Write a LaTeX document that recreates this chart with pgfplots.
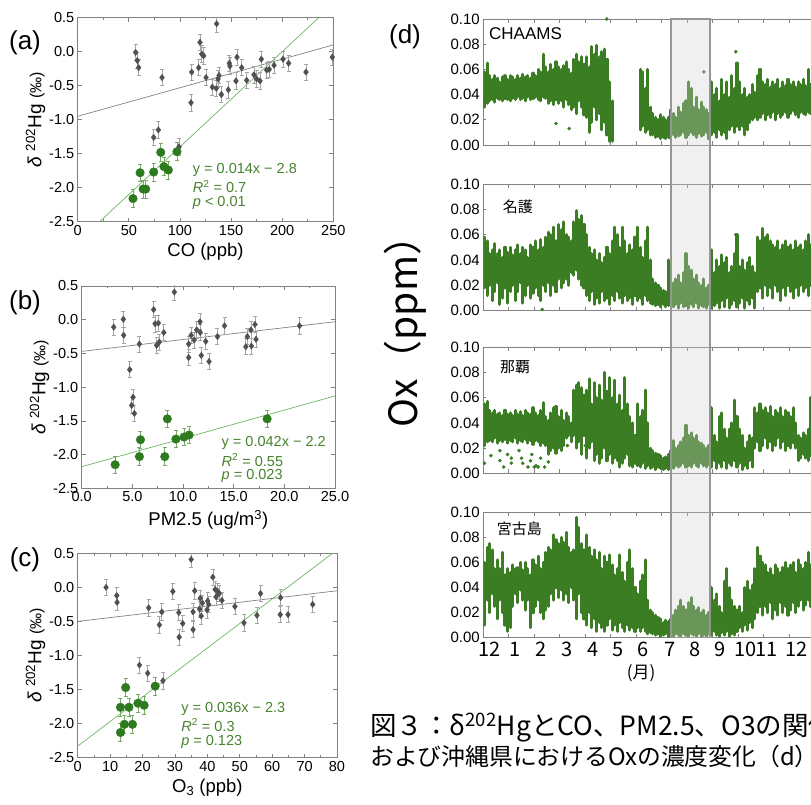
\documentclass[border=0pt]{standalone}
\usepackage{fontspec}
\setmainfont{Liberation Sans}
\newfontfamily\jp{Noto Sans CJK JP}
\usepackage{pgfplots}
\usepackage{pgfplotstable}
\pgfplotsset{compat=1.18}
\newcommand\fs[1]{\fontsize{#1}{#1}\selectfont}
\definecolor{tsgreen}{RGB}{58,125,34}
\definecolor{scgreen}{RGB}{46,122,30}
\definecolor{greenline}{RGB}{110,180,100}
\definecolor{greenerr}{RGB}{120,170,100}
\definecolor{greymark}{RGB}{80,80,80}
\definecolor{greyerr}{RGB}{165,165,165}
\definecolor{greyline}{RGB}{130,130,130}
\definecolor{axgray}{RGB}{130,130,130}
\definecolor{annot}{RGB}{70,130,45}

\pgfplotstableread{
t lo hi
0.05 30 58
0.15 33 65
0.25 35 55
0.35 36 52
0.45 34 55
0.55 37 53
0.65 36 50
0.75 35 54
0.85 37 55
0.95 36 52
1.05 35 55
1.15 37 54
1.25 36 52
1.35 38 55
1.45 36 53
1.55 37 56
1.65 35 54
1.75 38 55
1.85 36 53
1.95 37 57
2.05 38 55
2.15 36 60
2.25 35 58
2.35 38 72
2.45 37 62
2.55 33 58
2.65 35 64
2.75 32 60
2.85 36 66
2.95 33 62
3.05 35 60
3.15 30 63
3.25 36 66
3.35 32 60
3.45 28 57
3.55 30 68
3.65 25 72
3.75 35 66
3.85 30 70
3.95 24 64
4.05 22 70
4.15 10 62
4.25 18 78
4.35 30 72
4.45 20 79
4.55 25 70
4.65 12 74
4.75 18 76
4.85 8 68
4.95 3 50
5.05 3 35
6.15 12 60
6.25 15 58
6.35 10 45
6.45 12 60
6.55 8 30
6.65 8 25
6.75 6 22
6.85 7 20
6.95 5 24
7.05 6 22
7.15 5 20
7.25 6 22
7.35 5 28
7.45 8 25
7.55 6 22
7.65 7 30
7.75 8 26
7.85 10 33
7.95 6 35
8.05 8 50
8.15 10 45
8.25 8 30
8.35 6 38
8.45 9 28
8.55 7 34
8.65 8 30
8.75 10 28
8.85 5 25
8.95 8 50
9.05 10 40
9.15 6 45
9.25 12 35
9.35 8 52
9.45 10 40
9.55 5 50
9.65 12 38
9.75 15 55
9.85 10 45
9.95 15 65
10.05 12 50
10.15 15 40
10.25 8 45
10.35 12 38
10.45 18 40
10.55 20 48
10.65 22 42
10.75 20 55
10.85 22 60
10.95 25 50
11.05 20 48
11.15 24 52
11.25 22 46
11.35 26 50
11.45 20 48
11.55 25 52
11.65 22 45
11.75 24 50
11.85 26 47
11.95 22 52
12.05 25 48
12.15 27 50
12.25 24 46
12.35 22 50
12.45 26 48
12.55 25 52
12.65 24 47
12.75 26 60
12.85 25 48
12.95 27 50
}\tsA

\pgfplotstableread{
t lo hi
0.05 18 58
0.15 12 55
0.25 20 45
0.35 8 48
0.45 15 53
0.55 22 45
0.65 5 48
0.75 10 42
0.85 18 50
0.95 6 46
1.05 15 50
1.15 20 44
1.25 8 48
1.35 15 52
1.45 22 45
1.55 6 50
1.65 12 48
1.75 20 42
1.85 10 52
1.95 14 50
2.05 18 55
2.15 12 48
2.25 8 56
2.35 20 50
2.45 15 58
2.55 22 62
2.65 12 60
2.75 20 66
2.85 15 55
2.95 25 68
3.05 18 64
3.15 22 70
3.25 25 60
3.35 20 58
3.45 30 55
3.55 28 70
3.65 32 79
3.75 25 72
3.85 20 75
3.95 18 68
4.05 12 60
4.15 8 50
4.25 15 45
4.35 5 48
4.45 10 40
4.55 6 45
4.65 15 38
4.75 8 42
4.85 10 50
4.95 5 45
5.05 12 55
5.15 8 66
5.25 15 60
5.35 10 50
5.45 6 66
5.55 12 55
5.65 8 45
5.75 10 52
5.85 5 48
5.95 12 58
6.05 8 66
6.15 10 50
6.25 5 42
6.35 12 55
6.45 8 66
6.55 6 40
6.65 5 25
6.75 4 22
6.85 5 20
6.95 3 18
7.05 5 16
7.15 3 15
7.25 4 40
7.35 8 20
7.45 3 22
7.55 5 25
7.65 2 28
7.75 6 22
7.85 3 30
7.95 4 45
8.05 2 35
8.15 5 32
8.25 3 25
8.35 6 28
8.45 2 22
8.55 4 20
8.65 3 25
8.75 2 18
8.85 5 20
8.95 2 48
9.05 4 30
9.15 6 40
9.25 2 35
9.35 8 44
9.45 3 38
9.55 10 42
9.65 2 30
9.75 5 35
9.85 8 45
9.95 3 60
10.05 6 35
10.15 10 40
10.25 2 32
10.35 8 38
10.45 5 42
10.55 10 35
10.65 2 30
10.75 15 58
10.85 18 55
10.95 10 65
11.05 20 58
11.15 12 60
11.25 18 55
11.35 10 52
11.45 20 50
11.55 15 55
11.65 8 48
11.75 18 52
11.85 12 55
11.95 20 50
12.05 15 52
12.15 10 48
12.25 18 55
12.35 12 50
12.45 20 52
12.55 15 48
12.65 18 55
12.75 12 60
12.85 20 52
12.95 16 50
}\tsB

\pgfplotstableread{
t lo hi
0.05 22 55
0.15 25 57
0.25 26 50
0.35 25 48
0.45 28 50
0.55 24 47
0.65 26 48
0.75 25 46
0.85 27 50
0.95 24 47
1.05 26 48
1.15 25 46
1.25 28 50
1.35 24 47
1.45 26 49
1.55 25 46
1.65 27 50
1.75 24 48
1.85 26 47
1.95 23 52
2.05 26 48
2.15 25 46
2.25 22 50
2.35 24 56
2.45 22 45
2.55 15 42
2.65 18 48
2.75 20 52
2.85 16 53
2.95 20 45
3.05 18 50
3.15 22 42
3.25 28 48
3.35 30 45
3.45 25 40
3.55 30 66
3.65 20 70
3.75 25 72
3.85 15 68
3.95 30 62
4.05 12 66
4.15 20 75
4.25 25 55
4.35 10 72
4.45 15 60
4.55 8 70
4.65 12 58
4.75 20 80
4.85 10 65
4.95 15 76
5.05 8 60
5.15 12 74
5.25 10 55
5.35 5 62
5.45 8 50
5.55 12 76
5.65 15 55
5.75 6 45
5.85 5 40
5.95 8 30
6.05 6 55
6.15 5 45
6.25 8 50
6.35 4 66
6.45 6 40
6.55 4 20
6.65 5 18
6.75 3 16
6.85 5 15
6.95 4 14
7.05 3 12
7.15 4 13
7.25 3 15
7.35 5 18
7.45 4 26
7.55 6 20
7.65 5 22
7.75 6 25
7.85 8 28
7.95 5 38
8.05 6 30
8.15 5 32
8.25 8 28
8.35 6 30
8.45 5 25
8.55 8 24
8.65 6 22
8.75 5 20
8.85 7 22
8.95 5 52
9.05 10 30
9.15 4 25
9.25 8 45
9.35 5 48
9.45 10 35
9.55 4 28
9.65 8 35
9.75 6 40
9.85 10 58
9.95 5 45
10.05 8 35
10.15 3 30
10.25 6 20
10.35 4 25
10.45 10 30
10.55 5 28
10.65 20 52
10.75 25 48
10.85 18 55
10.95 22 50
11.05 28 52
11.15 20 48
11.25 25 53
11.35 18 45
11.45 22 50
11.55 28 48
11.65 20 52
11.75 25 45
11.85 18 50
11.95 22 48
12.05 20 45
12.15 24 52
12.25 20 40
12.35 10 30
12.45 12 28
12.55 15 32
12.65 12 30
12.75 10 35
12.85 14 60
12.95 15 35
}\tsC

\pgfplotstableread{
t lo hi
0.05 10 60
0.15 30 72
0.25 20 75
0.35 35 70
0.45 25 55
0.55 15 62
0.65 30 55
0.75 20 68
0.85 10 50
0.95 5 55
1.05 8 52
1.15 25 58
1.25 35 55
1.35 28 56
1.45 38 60
1.55 30 54
1.65 22 60
1.75 30 55
1.85 8 50
1.95 20 62
2.05 25 58
2.15 30 65
2.25 20 55
2.35 15 60
2.45 22 68
2.55 25 72
2.65 35 70
2.75 30 82
2.85 40 78
2.95 32 75
3.05 38 80
3.15 30 76
3.25 35 84
3.35 28 72
3.45 40 68
3.55 30 70
3.65 15 96
3.75 35 88
3.85 20 75
3.95 15 70
4.05 10 82
4.15 20 72
4.25 8 65
4.35 15 70
4.45 5 62
4.55 12 68
4.65 8 55
4.75 5 65
4.85 10 60
4.95 15 66
5.05 6 58
5.15 10 50
5.25 5 55
5.35 12 66
5.45 8 52
5.55 5 45
5.65 10 60
5.75 6 70
5.85 8 55
5.95 5 40
6.05 8 35
6.15 5 45
6.25 8 50
6.35 5 62
6.45 3 30
6.55 4 22
6.65 3 20
6.75 2 18
6.85 3 16
6.95 1 15
7.05 2 12
7.15 3 14
7.25 1 13
7.35 2 15
7.45 1 18
7.55 3 22
7.65 2 25
7.75 1 30
7.85 3 25
7.95 2 22
8.05 1 28
8.15 3 32
8.25 2 25
8.35 1 22
8.45 3 24
8.55 0 20
8.65 2 22
8.75 1 18
8.85 3 20
8.95 2 40
9.05 5 30
9.15 2 35
9.25 1 25
9.35 4 20
9.45 2 45
9.55 5 55
9.65 1 40
9.75 3 30
9.85 2 25
9.95 5 22
10.05 8 25
10.15 5 20
10.25 10 40
10.35 6 45
10.45 12 38
10.55 8 42
10.65 15 55
10.75 20 72
10.85 25 65
10.95 18 60
11.05 25 58
11.15 20 52
11.25 28 55
11.35 15 50
11.45 22 58
11.55 18 55
11.65 28 52
11.75 20 56
11.85 25 60
11.95 18 55
12.05 22 58
12.15 28 60
12.25 20 52
12.35 25 62
12.45 30 58
12.55 22 55
12.65 26 60
12.75 30 68
12.85 25 58
12.95 28 62
}\tsD

\pgfplotsset{
  scat/.style={scale only axis, anchor=south west, clip=true,
    axis line style={draw=axgray, line width=0.9pt},
    tick style={draw=axgray, line width=0.7pt},
    tick align=inside, tick pos=both,
    major tick length=4pt, minor tick length=2.5pt,
    minor x tick num=1,
    ymin=-2.5, ymax=0.5, ytick={-2.5,-2.0,-1.5,-1.0,-0.5,0.0,0.5},
    yticklabel style={/pgf/number format/.cd, fixed, fixed zerofill, precision=1},
    ticklabel style={font=\fs{14.5}},
    /pgf/number format/assume math mode=true,
    ylabel={\fs{19}\textit{δ} \textsuperscript{202}Hg \fs{16}(‰)},
    ylabel style={yshift=-3pt},
    xlabel style={font=\fs{18.5}, yshift=-1pt},
  },
  greypts/.style={only marks, mark=diamond*, mark size=3.2pt, color=greymark,
    error bars/.cd, y dir=both, y fixed=0.12,
    error bar style={draw=greyerr, line width=0.7pt},
    error mark options={rotate=90, mark size=2pt, draw=greyerr, line width=0.7pt}},
  greenpts/.style={only marks, mark=*, mark size=4.3pt, color=scgreen,
    error bars/.cd, y dir=both, y fixed=0.13,
    error bar style={draw=greenerr, line width=0.7pt},
    error mark options={rotate=90, mark size=2pt, draw=greenerr, line width=0.7pt}},
  ts/.style={scale only axis, anchor=south west, clip=true,
    width=331.5pt, xmin=0, xmax=13, ymin=0, ymax=100,
    axis line style={draw=axgray, line width=0.9pt},
    tick style={draw=axgray, line width=0.7pt},
    tick align=inside, tick pos=both,
    major tick length=3pt, minor tick length=4pt,
    ytick={0,20,40,60,80,100},
    yticklabels={0.00,0.02,0.04,0.06,0.08,0.10},
    xtick={0.24,1.24,2.25,3.27,4.29,5.28,6.28,7.32,8.3,9.29,10.3,11.1,12.3},
    xticklabels={},
    major x tick style={draw=none},
    minor xtick={1,2,3,4,5,6,7,8,9,10,11,12},
    ticklabel style={font=\fs{15}},
  },
  band/.style={tsgreen, line width=3.1pt, line cap=round},
}

\begin{document}
\begin{tikzpicture}
\useasboundingbox (0,0) rectangle (811pt,804pt);
\clip (0,0) rectangle (811pt,804pt);

% ---------------- (a) ----------------
\begin{axis}[scat, at={(77.7pt,582.3pt)}, width=255.6pt, height=204pt,
  xmin=0, xmax=250, xtick={0,50,100,150,200,250}, xlabel={CO (ppb)}]
\addplot[greyline, line width=0.7pt] coordinates {(0,-0.95) (250,0.10)};
\addplot[greenline, line width=0.7pt] coordinates {(21.4,-2.5) (235.7,0.5)};
\addplot[greypts] coordinates {(56.7,-0.01) (58.3,-0.13) (59.6,-0.235) (82.5,-0.38) (74.3,-1.26) (78.9,-1.15) (99.1,-1.40) (110.8,-0.75) (111.5,-0.30) (118.3,-0.235) (119.6,0.137) (121.3,-0.034) (123.2,-0.06) (125.5,-0.38) (131.7,-0.52) (135.6,-0.54) (135.9,0.41) (137.3,-0.40) (138.2,-0.35) (140.5,-0.63) (147.3,-0.56) (148.3,-0.17) (148.9,-0.21) (155.8,-0.08) (154.8,-0.43) (160.4,-0.235) (165.3,-0.42) (172.4,-0.34) (175,-0.40) (178.3,-0.43) (179.6,-0.11) (184.8,-0.27) (187.4,-0.26) (192,-0.2) (200.8,-0.11) (206.3,-0.17) (223.3,-0.30) (249,-0.08)};
\addplot[greenpts] coordinates {(54.1,-2.16) (61,-1.78) (64,-2.02) (66.5,-2.02) (74.3,-1.77) (81.2,-1.48) (84.4,-1.69) (88.7,-1.74) (97.1,-1.47)};
\node[anchor=west, font=\fs{14.5}, text=annot, inner sep=0pt] at (axis cs:112.5,-1.74) {y = 0.014x − 2.8};
\node[anchor=west, font=\fs{14.5}, text=annot, inner sep=0pt] at (axis cs:112.5,-1.985) {\textit{R}\textsuperscript{2} = 0.7};
\node[anchor=west, font=\fs{14.5}, text=annot, inner sep=0pt] at (axis cs:112.5,-2.22) {\textit{p} < 0.01};
\end{axis}

% ---------------- (b) ----------------
\begin{axis}[scat, at={(81.7pt,315.7pt)}, width=253.3pt, height=202.3pt,
  xmin=0, xmax=25, xtick={0,5,10,15,20,25},
  xticklabel style={/pgf/number format/.cd, fixed, fixed zerofill, precision=1},
  xlabel={PM2.5 (ug/m\textsuperscript{3})}]
\addplot[greyline, line width=0.7pt] coordinates {(0,-0.47) (25,-0.03)};
\addplot[greenline, line width=0.7pt] coordinates {(0,-2.18) (25,-1.13)};
\addplot[greypts] coordinates {(3.16,-0.11) (4.11,0.006) (4.14,-0.23) (4.74,-0.74) (5.07,-1.15) (4.93,-1.27) (5.2,-1.39) (5.69,-0.36) (7.1,0.15) (7.24,-0.06) (7.4,-0.38) (7.57,-0.05) (7.66,-0.33) (8.1,-0.19) (9.14,0.41) (10.56,-0.36) (10.56,-0.56) (10.8,-0.23) (11.1,-0.30) (11.35,-0.15) (11.68,-0.03) (11.7,-0.19) (11.8,-0.53) (12.24,-0.32) (12.57,-0.62) (13.4,-0.25) (14.1,-0.09) (16.2,-0.40) (16.35,-0.25) (16.7,-0.15) (16.75,-0.39) (17.1,-0.07) (17.2,-0.29) (21.5,-0.09)};
\addplot[greenpts] coordinates {(3.3,-2.15) (5.7,-2.03) (5.8,-1.78) (8.45,-1.47) (8.2,-2.03) (9.3,-1.77) (10.1,-1.74) (10.6,-1.71) (18.3,-1.47)};
\node[anchor=west, font=\fs{14.5}, text=annot, inner sep=0pt] at (axis cs:13.8,-1.82) {y = 0.042x − 2.2};
\node[anchor=west, font=\fs{14.5}, text=annot, inner sep=0pt] at (axis cs:13.8,-2.08) {\textit{R}\textsuperscript{2} = 0.55};
\node[anchor=west, font=\fs{14.5}, text=annot, inner sep=0pt] at (axis cs:13.8,-2.32) {\textit{p} = 0.023};
\end{axis}

% ---------------- (c) ----------------
\begin{axis}[scat, at={(77.7pt,46.3pt)}, width=259.3pt, height=204.4pt,
  xmin=0, xmax=80, xtick={0,10,20,30,40,50,60,70,80},
  xlabel={O\textsubscript{3} (ppb)}]
\addplot[greyline, line width=0.7pt] coordinates {(0,-0.50) (80,-0.05)};
\addplot[greenline, line width=0.7pt] coordinates {(0,-2.33) (80,0.55)};
\addplot[greypts] coordinates {(8.75,0.0) (12.05,-0.12) (12.15,-0.22) (21.9,-0.30) (25.2,-0.55) (25.95,-0.36) (29.35,-0.06) (31.2,-0.37) (31.3,-0.73) (32.4,-0.53) (35.0,0.41) (35.6,-0.36) (35.6,-0.62) (36.1,-0.05) (37.6,-0.32) (37.8,-0.16) (38.1,-0.42) (38.5,-0.23) (39.9,-0.33) (40.1,-0.20) (40.4,-0.25) (41.7,0.15) (42.4,-0.03) (42.7,-0.14) (43.2,-0.06) (43.7,-0.09) (44.5,-0.19) (48.5,-0.28) (51.3,-0.52) (55.3,-0.41) (56.4,-0.09) (62.5,-0.40) (62.6,-0.15) (64.9,-0.40) (72.5,-0.25) (19.05,-1.14) (21.6,-1.26) (26.3,-1.37)};
\addplot[greenpts] coordinates {(13.2,-2.13) (13.2,-1.76) (14.4,-2.01) (14.8,-1.47) (15.8,-1.76) (16.9,-2.01) (18.6,-1.70) (20.5,-1.73) (23.9,-1.45)};
\node[anchor=west, font=\fs{14.5}, text=annot, inner sep=0pt] at (axis cs:31.9,-1.785) {y = 0.036x − 2.3};
\node[anchor=west, font=\fs{14.5}, text=annot, inner sep=0pt] at (axis cs:31.9,-2.02) {\textit{R}\textsuperscript{2} = 0.3};
\node[anchor=west, font=\fs{14.5}, text=annot, inner sep=0pt] at (axis cs:31.9,-2.27) {\textit{p} = 0.123};
\end{axis}

\node[font=\fs{26}] at (25pt,761pt) {(a)};
\node[font=\fs{26}] at (25pt,501pt) {(b)};
\node[font=\fs{26}] at (25pt,244pt) {(c)};
\node[font=\fs{26}] at (405pt,767pt) {(d)};

% ---------------- (d) time series ----------------
\begin{axis}[ts, at={(483.3pt,659pt)}, height=126pt]
\addplot[band, quiver={u=0, v=\thisrow{hi}-\thisrow{lo}}] table[x=t, y=lo] {\tsA};
\addplot[only marks, mark=*, mark size=1.6pt, tsgreen] coordinates {(2.85,17) (3.37,13) (4.84,100) (8.65,58) (9.9,74)};
\node[anchor=west, font=\fs{17}, inner sep=0pt] at (axis cs:0.22,88) {CHAAMS};
\end{axis}

\begin{axis}[ts, at={(483.3pt,493.3pt)}, height=126.7pt]
\addplot[band, quiver={u=0, v=\thisrow{hi}-\thisrow{lo}}] table[x=t, y=lo] {\tsB};
\addplot[only marks, mark=*, mark size=1.6pt, tsgreen] coordinates {(2.31,1) (3.6,42) (9.9,60)};
\node[anchor=west, font=\jp\fs{15}, inner sep=0pt] at (axis cs:0.76,82.4) {名護};
\end{axis}

\begin{axis}[ts, at={(483.3pt,330.7pt)}, height=126pt]
\addplot[band, quiver={u=0, v=\thisrow{hi}-\thisrow{lo}}] table[x=t, y=lo] {\tsC};
\addplot[only marks, mark=*, mark size=1.6pt, tsgreen] coordinates {(0.05,8) (0.3,14) (0.65,18) (0.65,10) (0.8,5) (0.95,15) (1.1,8) (1.1,12) (1.4,18) (1.5,12) (1.55,8) (1.75,5) (1.85,10) (1.9,15) (2.0,5) (2.07,6) (2.15,5) (2.25,12) (2.4,5) (2.55,9) (3.3,22) (4.0,22) (5.9,20)};
\node[anchor=west, font=\jp\fs{15}, inner sep=0pt] at (axis cs:0.65,84) {那覇};
\end{axis}

\begin{axis}[ts, at={(483.3pt,166.3pt)}, height=125.4pt,
  xticklabels={12,1,2,3,4,5,6,7,8,9,10,11,12},
  xticklabel style={font=\jp\fs{20}, yshift=-1pt}]
\addplot[band, quiver={u=0, v=\thisrow{hi}-\thisrow{lo}}] table[x=t, y=lo] {\tsD};
\node[anchor=west, font=\jp\fs{15}, inner sep=0pt] at (axis cs:0.52,87) {宮古島};
\end{axis}

% shaded period
\filldraw[fill={rgb,255:red,208;green,208;blue,208}, fill opacity=0.32,
  draw={rgb,255:red,150;green,150;blue,150}, line width=1.1pt]
  (671pt,166.3pt) rectangle (710pt,785pt);

\node[rotate=90, font=\jp\fs{39}] at (405pt,482pt) {Ox（ppm）};
\node[font=\jp\fs{17}] at (641pt,131pt) {(月)};

\node[anchor=west, font=\jp\fs{26.5}, inner sep=0pt] at (370pt,77pt) {図３：δ\textsuperscript{202}HgとCO、PM2.5、O3の関係（a–c）};
\node[anchor=west, font=\jp\fs{23.8}, inner sep=0pt] at (370pt,48pt) {および沖縄県におけるOxの濃度変化（d）};
\end{tikzpicture}
\end{document}
